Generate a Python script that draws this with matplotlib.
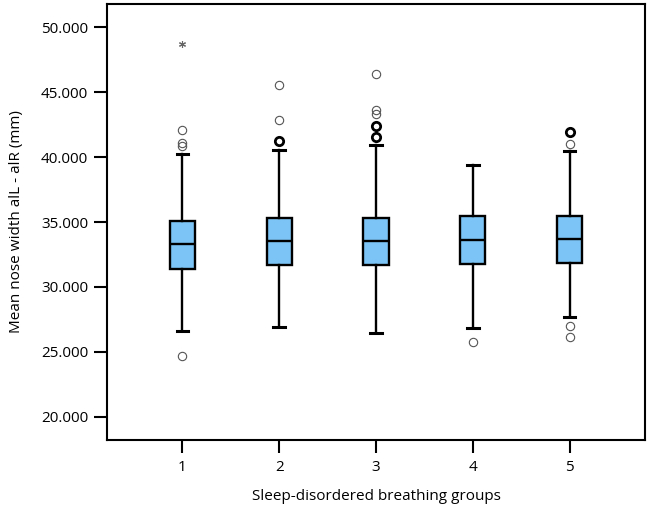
import matplotlib
matplotlib.use("Agg")
import matplotlib.pyplot as plt

plt.rcParams['font.family'] = ['Open Sans', 'DejaVu Sans']

# Five sleep-disordered breathing groups, box statistics
groups = [1, 2, 3, 4, 5]
whisker_low = [26.61, 26.94, 26.48, 26.86, 27.69]
q1 = [31.39, 31.67, 31.67, 31.80, 31.85]
median = [33.32, 33.52, 33.52, 33.62, 33.70]
q3 = [35.09, 35.34, 35.34, 35.47, 35.47]
whisker_high = [40.26, 40.57, 40.95, 39.41, 40.49]

# single outliers (open circles)
outliers = [
    [42.10, 41.10, 40.87, 24.68],
    [45.58, 42.88],
    [46.42, 43.65, 43.34],
    [25.78],
    [41.03, 26.99, 26.15],
]
# overlapping outliers (drawn bold)
outliers_bold = [
    [],
    [41.26],
    [42.42, 41.57],
    [],
    [41.95],
]
# extreme values (asterisk)
extremes = [[48.73], [], [], [], []]

stats = []
for i, g in enumerate(groups):
    stats.append({
        "whislo": whisker_low[i], "q1": q1[i], "med": median[i],
        "q3": q3[i], "whishi": whisker_high[i], "fliers": outliers[i],
    })

fig = plt.figure(figsize=(6.5, 5.09), dpi=100)
ax = fig.add_axes([0.1646, 0.1356, 0.8277, 0.8564])

line = dict(color="black", linewidth=1.7)
ax.bxp(stats, positions=groups, widths=0.26, patch_artist=True,
       boxprops=dict(facecolor="#7bc4f5", edgecolor="black", linewidth=1.7),
       medianprops=line, whiskerprops=line,
       capprops=dict(color="black", linewidth=2.2), capwidths=0.12,
       flierprops=dict(marker="o", markersize=6, markerfacecolor="none",
                       markeredgecolor="#555555", markeredgewidth=0.8))

for i, g in enumerate(groups):
    if outliers_bold[i]:
        ax.plot([g] * len(outliers_bold[i]), outliers_bold[i], "o", markersize=6,
                markerfacecolor="none", markeredgecolor="black", markeredgewidth=2.0)
    if extremes[i]:
        ax.plot([g] * len(extremes[i]), extremes[i], marker=(6, 2, 0), linestyle="none",
                markersize=5, color="#666666", markeredgewidth=0.8)

ax.set_xlim(0.22, 5.78)
ax.set_ylim(18.2, 51.8)
ax.set_yticks([20, 25, 30, 35, 40, 45, 50])
ax.set_yticklabels(["%.3f" % v for v in [20, 25, 30, 35, 40, 45, 50]])
ax.set_xticks(groups)
ax.set_xticklabels([str(g) for g in groups])

for s in ax.spines.values():
    s.set_linewidth(1.5)
ax.tick_params(axis="both", length=9.5, width=1.5, labelsize=11, pad=4)
ax.tick_params(axis="x", pad=5)

ax.set_ylabel("Mean nose width alL - alR (mm)", fontsize=11, labelpad=12)
ax.set_xlabel("Sleep-disordered breathing groups", fontsize=11, labelpad=10)

fig.savefig("out.png", dpi=100)
